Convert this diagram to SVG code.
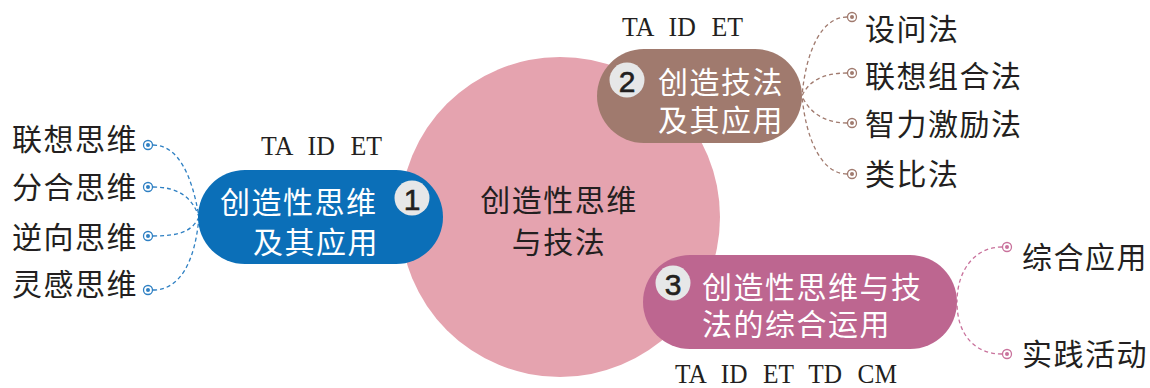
<svg xmlns="http://www.w3.org/2000/svg" width="1150" height="388" viewBox="0 0 1150 388">
<style>
.lbl{font-family:"Noto Sans CJK SC","Noto Sans",sans-serif;font-size:30px;fill:#231f20;dominant-baseline:central;letter-spacing:1.5px}
.ntx{font-family:"Noto Sans CJK SC","Noto Sans",sans-serif;font-size:30px;fill:#ffffff;dominant-baseline:central;letter-spacing:1.5px}
.ctx{font-family:"Noto Sans CJK SC","Noto Sans",sans-serif;font-size:30px;fill:#231f20;dominant-baseline:central;letter-spacing:1.5px;text-anchor:middle}
.code{font-family:"Liberation Serif","Times New Roman",serif;font-size:28px;fill:#231f20;word-spacing:10px}
.badge{fill:#e6e7e8}
.num{font-family:"Liberation Sans",Arial,sans-serif;font-size:30px;fill:#231f20;stroke:#231f20;stroke-width:0.6;text-anchor:middle;dominant-baseline:central}
.dash{fill:none;stroke-width:1.3;stroke-dasharray:4 3}
.dot{fill:#ffffff;stroke-width:1.3}
</style>
<g id="center">
<circle cx="560" cy="217" r="160" fill="#e5a3af"/>
<text class="ctx" x="559" y="198">创造性思维</text>
<text class="ctx" x="559" y="240">与技法</text>
</g>
<g id="connectors">
<path class="dash" stroke="#2f80c3" d="M153,145 C178,145 192,175 199,217"/>
<path class="dash" stroke="#2f80c3" d="M153,187 C178,187 192,197 199,217"/>
<path class="dash" stroke="#2f80c3" d="M153,236 C178,236 192,232 199,217"/>
<path class="dash" stroke="#2f80c3" d="M153,290 C180,290 195,262 199,217"/>
<path class="dash" stroke="#a07a6e" d="M847,17 C822,17 806,50 802,96"/>
<path class="dash" stroke="#a07a6e" d="M847,73 C822,73 808,82 802,96"/>
<path class="dash" stroke="#a07a6e" d="M847,123 C822,123 808,110 802,96"/>
<path class="dash" stroke="#a07a6e" d="M847,174 C822,174 806,140 802,96"/>
<path class="dash" stroke="#c9729c" d="M1002,247 C975,247 957,270 957,302"/>
<path class="dash" stroke="#c9729c" d="M1002,354 C975,354 957,335 957,302"/>
</g>
<g id="node1">
<rect x="198" y="170" width="245" height="94" rx="47" fill="#0b6fb8"/>
<text class="ntx" x="220" y="200">创造性思维</text>
<text class="ntx" x="253" y="240">及其应用</text>
<circle class="badge" cx="412" cy="198" r="17.5"/>
<text class="num" x="412" y="199">1</text>
<text class="code" x="261" y="155" textLength="121" lengthAdjust="spacingAndGlyphs">TA ID ET</text>
</g>
<g id="node2">
<rect x="597" y="49" width="205" height="94" rx="47" fill="#a07a6e"/>
<circle class="badge" cx="627" cy="80" r="17.5"/>
<text class="num" x="627" y="81">2</text>
<text class="ntx" x="658" y="80">创造技法</text>
<text class="ntx" x="658" y="118">及其应用</text>
<text class="code" x="622" y="36" textLength="121" lengthAdjust="spacingAndGlyphs">TA ID ET</text>
</g>
<g id="node3">
<rect x="643" y="255" width="314" height="94" rx="47" fill="#bd6690"/>
<circle class="badge" cx="673" cy="283" r="17.5"/>
<text class="num" x="673" y="284">3</text>
<text class="ntx" x="702" y="285">创造性思维与技</text>
<text class="ntx" x="702" y="322">法的综合运用</text>
<text class="code" x="675" y="383" textLength="222" lengthAdjust="spacingAndGlyphs">TA ID ET TD CM</text>
</g>
<g id="leaf1a"><circle class="dot" stroke="#2f80c3" cx="148" cy="145" r="4.5"/><circle cx="148" cy="145" r="2" fill="#2f80c3"/><text class="lbl" x="12" y="137">联想思维</text></g>
<g id="leaf1b"><circle class="dot" stroke="#2f80c3" cx="148" cy="187" r="4.5"/><circle cx="148" cy="187" r="2" fill="#2f80c3"/><text class="lbl" x="12" y="185">分合思维</text></g>
<g id="leaf1c"><circle class="dot" stroke="#2f80c3" cx="148" cy="236" r="4.5"/><circle cx="148" cy="236" r="2" fill="#2f80c3"/><text class="lbl" x="12" y="235">逆向思维</text></g>
<g id="leaf1d"><circle class="dot" stroke="#2f80c3" cx="148" cy="290" r="4.5"/><circle cx="148" cy="290" r="2" fill="#2f80c3"/><text class="lbl" x="12" y="282">灵感思维</text></g>
<g id="leaf2a"><circle class="dot" stroke="#a07a6e" cx="852" cy="17" r="4.5"/><circle cx="852" cy="17" r="2" fill="#a07a6e"/><text class="lbl" x="865" y="27">设问法</text></g>
<g id="leaf2b"><circle class="dot" stroke="#a07a6e" cx="852" cy="73" r="4.5"/><circle cx="852" cy="73" r="2" fill="#a07a6e"/><text class="lbl" x="865" y="74">联想组合法</text></g>
<g id="leaf2c"><circle class="dot" stroke="#a07a6e" cx="852" cy="123" r="4.5"/><circle cx="852" cy="123" r="2" fill="#a07a6e"/><text class="lbl" x="865" y="122">智力激励法</text></g>
<g id="leaf2d"><circle class="dot" stroke="#a07a6e" cx="852" cy="174" r="4.5"/><circle cx="852" cy="174" r="2" fill="#a07a6e"/><text class="lbl" x="865" y="172">类比法</text></g>
<g id="leaf3a"><circle class="dot" stroke="#c9729c" cx="1007" cy="247" r="4.5"/><circle cx="1007" cy="247" r="2" fill="#c9729c"/><text class="lbl" x="1022" y="255">综合应用</text></g>
<g id="leaf3b"><circle class="dot" stroke="#c9729c" cx="1007" cy="354" r="4.5"/><circle cx="1007" cy="354" r="2" fill="#c9729c"/><text class="lbl" x="1022" y="352">实践活动</text></g>
</svg>
